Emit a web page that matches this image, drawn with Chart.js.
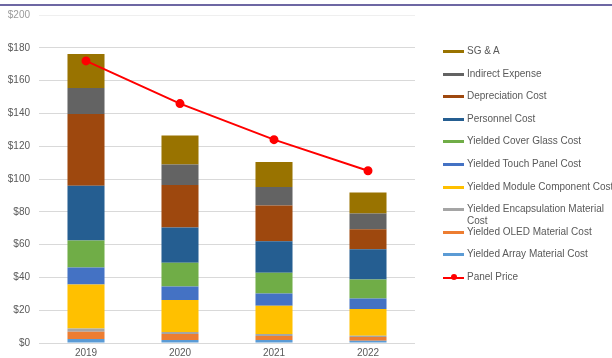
<!DOCTYPE html>
<html>
<head>
<meta charset="utf-8">
<script src="https://cdn.jsdelivr.net/npm/chart.js@4/dist/chart.umd.min.js"></script>
<style>
  body { margin: 0; width: 612px; height: 358px; overflow: hidden; background: #fff; font-family: "Liberation Sans", Arial, sans-serif; }
  #rule { position: absolute; left: 0; top: 4px; width: 612px; height: 2px; background: #6d67a3; }
  #wrap { position: absolute; left: 0; top: 0; width: 612px; height: 358px; }
  #legend { position: absolute; left: 0; top: 0; }
  .item { position: absolute; left: 443px; font-size: 10px; line-height: 12px; color: #595959; }
  .item .sw { position: absolute; left: 0; top: 5px; width: 21px; height: 3px; }
  .item .dot { position: absolute; left: 8px; top: 3px; width: 6px; height: 6px; border-radius: 50%; background: #ff0000; }
  .item .txt { position: absolute; left: 24px; top: 0; width: 150px; }
</style>
</head>
<body>
<div id="wrap"><canvas id="chart"></canvas></div>
<div id="rule"></div>
<div id="legend"></div>
<script>
let years = ['2019', '2020', '2021', '2022'];

// stack from bottom to top
let arrayCost = [2.4, 1.8, 1.8, 1.4];
let oledCost = [4.5, 3.7, 2.5, 2.2];
let encapCost = [2.0, 1.2, 1.2, 0.8];
let moduleCost = [26.8, 19.5, 17.2, 16.3];
let touchCost = [10.3, 8.3, 7.5, 6.5];
let coverCost = [16.5, 14.4, 12.6, 11.5];
let personnelCost = [33.4, 21.5, 19.2, 18.5];
let depreciationCost = [43.8, 25.9, 21.9, 12.1];
let indirectExpense = [15.8, 12.6, 11.2, 9.6];
let sgaCost = [20.7, 17.6, 15.2, 12.8];
let panelPrice = [172, 146, 124, 105];

let yTicks = [0, 20, 40, 60, 80, 100, 120, 140, 160, 180, 200];

let barSeries = [
    { label: 'Yielded Array Material Cost', data: arrayCost, color: '#5b9bd5' },
    { label: 'Yielded OLED Material Cost', data: oledCost, color: '#ed7d31' },
    { label: 'Yielded Encapsulation Material Cost', data: encapCost, color: '#a5a5a5' },
    { label: 'Yielded Module Component Cost', data: moduleCost, color: '#ffc000' },
    { label: 'Yielded Touch Panel Cost', data: touchCost, color: '#4472c4' },
    { label: 'Yielded Cover Glass Cost', data: coverCost, color: '#70ad47' },
    { label: 'Personnel Cost', data: personnelCost, color: '#255e91' },
    { label: 'Depreciation Cost', data: depreciationCost, color: '#9e480e' },
    { label: 'Indirect Expense', data: indirectExpense, color: '#636363' },
    { label: 'SG & A', data: sgaCost, color: '#997300' }
];

let datasets = barSeries.map(s => ({
    type: 'bar',
    label: s.label,
    data: s.data,
    backgroundColor: s.color,
    borderWidth: 0,
    barPercentage: 0.394,
    categoryPercentage: 1,
    order: 1
}));

datasets.push({
    type: 'line',
    label: 'Panel Price',
    data: panelPrice,
    borderColor: '#ff0000',
    backgroundColor: '#ff0000',
    borderWidth: 2,
    pointRadius: 3.5,
    pointHoverRadius: 3.5,
    tension: 0,
    order: 0
});

new Chart(document.getElementById('chart'), {
    data: { labels: years, datasets: datasets },
    options: {
        responsive: true,
        maintainAspectRatio: false,
        animation: false,
        layout: { padding: { left: 0, right: 197, top: 8, bottom: 0 } },
        plugins: { legend: { display: false }, tooltip: { enabled: false } },
        scales: {
            x: {
                stacked: true,
                afterFit: axis => { axis.height = 15; },
                grid: { display: false, drawTicks: false },
                border: { display: false },
                ticks: { color: '#595959', font: { family: 'Liberation Sans', size: 10 }, padding: 4 }
            },
            y: {
                stacked: true,
                min: 0,
                max: 200,
                afterBuildTicks: axis => { axis.ticks = yTicks.map(v => ({ value: v })); },
                afterFit: axis => { axis.width = 39; },
                border: { display: false },
                grid: {
                    drawTicks: false,
                    color: ctx => ctx.tick && ctx.tick.value === 200 ? '#efefef' : '#d9d9d9'
                },
                ticks: {
                    padding: 9,
                    color: ctx => ctx.tick && ctx.tick.value === 200 ? '#9a9a9a' : '#595959',
                    font: { family: 'Liberation Sans', size: 10 },
                    callback: v => '$' + v
                }
            }
        }
    }
});

// legend: top series first, price last
let legendBox = document.getElementById('legend');
let legendItems = barSeries.slice().reverse().concat([{ label: 'Panel Price', color: '#ff0000', line: true }]);
legendItems.forEach((item, i) => {
    const div = document.createElement('div');
    div.className = 'item';
    div.style.top = (45 + i * 22.6) + 'px';
    const sw = document.createElement('div');
    sw.className = 'sw';
    sw.style.background = item.color;
    if (item.line) { sw.style.height = '2px'; sw.style.top = '6px'; }
    div.appendChild(sw);
    if (item.line) {
        const dot = document.createElement('div');
        dot.className = 'dot';
        div.appendChild(dot);
    }
    const txt = document.createElement('div');
    txt.className = 'txt';
    txt.textContent = item.label;
    div.appendChild(txt);
    legendBox.appendChild(div);
});
</script>
</body>
</html>
